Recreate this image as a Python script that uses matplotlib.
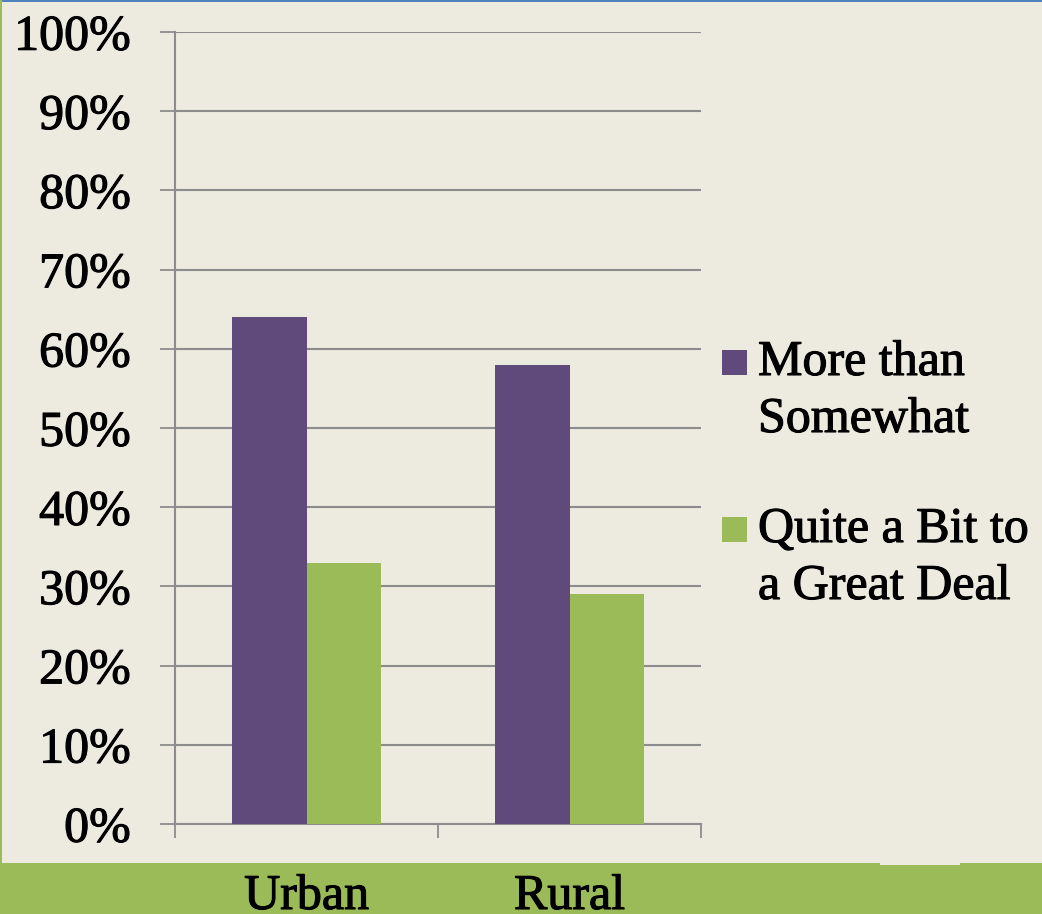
import matplotlib
matplotlib.use("Agg")
import matplotlib.pyplot as plt
import matplotlib.patheffects as pe
from matplotlib.patches import Rectangle
import numpy as np

# Data
categories = ["Urban", "Rural"]
series_names = ["More than\nSomewhat", "Quite a Bit to\na Great Deal"]
more_than_somewhat = [64, 58]
quite_a_bit = [33, 29]
y_ticks = list(range(0, 101, 10))
y_tick_labels = [f"{v}%" for v in y_ticks]

# Styling
BG = "#EDEBE0"
PURPLE = "#604A7B"
GREEN = "#9BBB59"
GRID = "#8C8C8C"
BLUE = "#4F81BD"
FONT = "Liberation Serif"
FS = 36
W, H = 1042, 914
DPI = 100
HEAVY = [pe.withStroke(linewidth=0.8, foreground="black")]

fig = plt.figure(figsize=(W / DPI, H / DPI), dpi=DPI, facecolor=BG)

def fx(px):
    return px / W

def fy(py):
    return 1 - py / H

ax = fig.add_axes([fx(175), fy(824), fx(701) - fx(175), fy(32) - fy(824)])
ax.set_facecolor(BG)

x = np.arange(len(categories))
bw = 0.285
ax.bar(x - bw / 2, more_than_somewhat, width=bw, color=PURPLE, zorder=3)
ax.bar(x + bw / 2, quite_a_bit, width=bw, color=GREEN, zorder=3)

ax.set_xlim(-0.5, len(categories) - 0.5)
ax.set_ylim(0, 100)
ax.set_yticks(y_ticks)
ax.set_yticklabels(y_tick_labels, fontsize=FS, family=FONT)
for lbl in ax.get_yticklabels():
    lbl.set_path_effects(HEAVY)
ax.yaxis.grid(True, color=GRID, linewidth=1.5, zorder=0)
ax.set_axisbelow(True)
ax.tick_params(axis="y", direction="out", length=10.8, width=1.3, color=GRID, pad=21)

# Category ticks sit at the boundaries between groups
ax.set_xticks(x)
ax.set_xticklabels([])
ax.tick_params(axis="x", which="major", length=0)
ax.set_xticks(np.arange(-0.5, len(categories), 1.0), minor=True)
ax.tick_params(axis="x", which="minor", direction="out", length=10.3, width=1.3, color=GRID)

for side in ["top", "right"]:
    ax.spines[side].set_visible(False)
for side in ["left", "bottom"]:
    ax.spines[side].set_color(GRID)
    ax.spines[side].set_linewidth(1.5)

# Green band along the bottom with category names
fig.patches.append(Rectangle((0, 0), 1, fy(863), transform=fig.transFigure,
                             facecolor=GREEN, edgecolor="none", zorder=0))
fig.patches.append(Rectangle((fx(880), fy(865)), fx(80), fy(863) - fy(865),
                             transform=fig.transFigure, facecolor=BG,
                             edgecolor="none", zorder=1))
for xi, name in zip(x, categories):
    xd = ax.transData.transform((xi, 0))[0]
    fig.text(xd / W, fy(909), name, ha="center", va="baseline",
             fontsize=FS, family=FONT, color="black", path_effects=HEAVY)

# Frame accents
fig.patches.append(Rectangle((0, fy(2)), 1, fy(0) - fy(2), transform=fig.transFigure,
                             facecolor=BLUE, edgecolor="none", zorder=2))
fig.patches.append(Rectangle((0, 0), fx(2), 1, transform=fig.transFigure,
                             facecolor=GREEN, edgecolor="none", zorder=2))

# Legend
for color, label, sq_top, base1 in [(PURPLE, series_names[0], 350, 375),
                                    (GREEN, series_names[1], 517, 542)]:
    fig.patches.append(Rectangle((fx(722), fy(sq_top + 25)), fx(25), fy(sq_top) - fy(sq_top + 25),
                                 transform=fig.transFigure, facecolor=color,
                                 edgecolor="none", zorder=3))
    for i, line in enumerate(label.split("\n")):
        fig.text(fx(758), fy(base1 + i * 57), line, ha="left", va="baseline",
                 fontsize=FS, family=FONT, color="black", path_effects=HEAVY)

fig.savefig("out.png", dpi=DPI, facecolor=BG)
